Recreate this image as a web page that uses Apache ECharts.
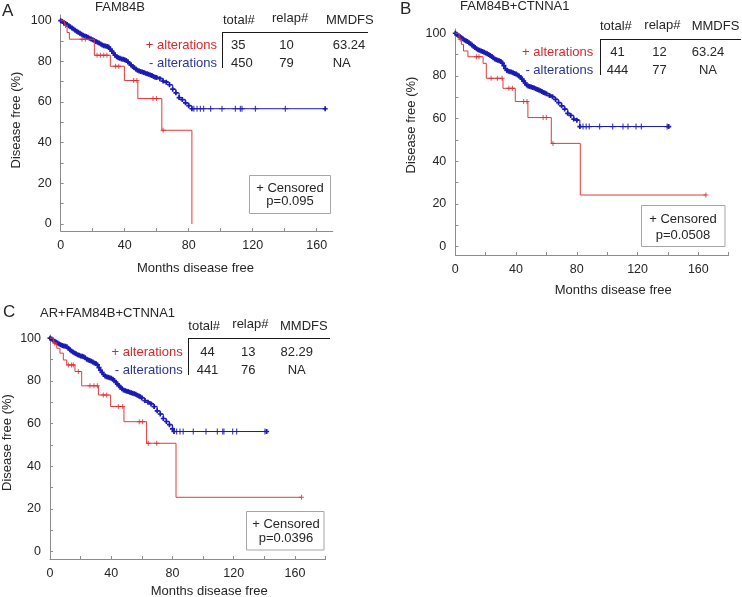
<!DOCTYPE html>
<html><head><meta charset="utf-8">
<script src="https://cdn.jsdelivr.net/npm/echarts@6/dist/echarts.min.js"></script>
<style>html,body{margin:0;padding:0;background:#fff}#c{width:742px;height:597px}</style>
</head><body><div id="c"></div>
<script>
// ---- axis ticks / labels ----
const xTickValues = [0, 20, 40, 60, 80, 100, 120, 140, 160, 180];
const xLabelValues = [0, 40, 80, 120, 160];
const yTickValues = [0, 10, 20, 30, 40, 50, 60, 70, 80, 90, 100];
const yLabelValues = [0, 20, 40, 60, 80, 100];

// ---- texts ----
const panelLetters = ['A', 'B', 'C'];
const panelTitles = ['FAM84B', 'FAM84B+CTNNA1', 'AR+FAM84B+CTNNA1'];
const tableHeader = ['total#', 'relap#', 'MMDFS'];
const rowLabels = ['+ alterations', '- alterations'];
const totals = [['35', '450'], ['41', '444'], ['44', '441']];
const relapses = [['10', '79'], ['12', '77'], ['13', '76']];
const mmdfs = [['63.24', 'NA'], ['63.24', 'NA'], ['82.29', 'NA']];
const pValues = ['p=0.095', 'p=0.0508', 'p=0.0396'];
const xTitle = 'Months disease free';
const yTitle = 'Disease free (%)';
const censoredLabel = '+ Censored';

// ---- panel A data ----
const aRed = [[0,100],[2.3,97.6],[4,94.2],[5.4,90.9],[21,83],[31,77.6],[39.8,70.6],[48.2,61.7],[63.2,46.1],[82,0]];
const aRedCens = [[3,97.6],[13.3,90.9],[15.4,90.9],[22.7,83],[24.8,83],[26.9,83],[28.9,83],[34.3,77.6],[36.3,77.6],[45.6,70.6],[47.6,70.6],[57.7,61.7],[59.8,61.7],[64,46.1]];
const aBlue = [[0,100],[1,99.6],[2,99.1],[3,98.6],[4,98.1],[5,97.5],[6,97],[7,96.4],[8,95.9],[9,95.3],[10,94.8],[11,94.3],[12,93.8],[13,93.3],[14,92.9],[15,92.5],[16,92.2],[17,91.8],[18,91.4],[19,91],[20,90.6],[21,90.2],[22,89.8],[23,89.4],[24,89],[25,88.5],[26,88],[27,87.7],[28,87.5],[29,87.3],[30,87],[31,86],[32,85],[33,84],[34,83],[35,82.3],[36,81.8],[37,81.5],[38,81.2],[39,81],[40,80.8],[41,80.4],[42,79.8],[43,79],[44,78.2],[45,77.5],[46,76.8],[47,76.2],[48,75.6],[49,75.2],[50,75],[51,74.8],[52,74.5],[53,74.2],[54,73.9],[55,73.6],[56,73.3],[57,73],[58,72.6],[59,72.2],[60,72],[62,71.5],[64,70.3],[66,69.7],[68,68.5],[70,66.3],[72,64.5],[74,62.2],[76,61.2],[78,59.6],[80,58.2],[82,56.7],[165.3,56.7]];
const aBlueCens = [[83.2,56.7],[85.2,56.7],[87.3,56.7],[89.3,56.7],[93.7,56.7],[100.8,56.7],[109.2,56.7],[112.3,56.7],[113.3,56.7],[121.7,56.7],[140.4,56.7]];

// ---- panel B data ----
const bRed = [[0,100],[2.5,97.2],[4,94.8],[5.4,91.7],[8.3,89],[18.3,85.9],[20.4,78.9],[31.4,74.2],[39.5,68],[47.8,60.5],[63.2,48.4],[82.3,24.2],[165,24.2]];
const bRedCens = [[3.2,97.2],[13.9,89],[15.6,89],[23.6,78.9],[27.7,78.9],[30.8,78.9],[35.3,74.2],[37.6,74.2],[45,68],[47.2,68],[57.8,60.5],[59.9,60.5],[64.3,48.4],[165,24.2]];
const bBlue = [[0,100],[1,99.5],[2,99],[3,98.4],[4,97.9],[5,97.4],[6,96.9],[7,96.5],[8,96.1],[9,95.6],[10,95.1],[11,94.5],[12,93.9],[13,93.3],[14,92.7],[15,92.3],[16,92],[17,91.7],[18,91.4],[19,91.1],[20,90.8],[21,90.4],[22,90],[23,89.6],[24,89.1],[25,88.5],[26,88],[27,87.6],[28,87.3],[29,87.1],[30,86.8],[31,86],[32,84.8],[33,83.5],[34,82.6],[35,82.2],[36,82],[37,81.8],[38,81.5],[39,81.2],[40,80.9],[41,80.5],[42,80],[43,79.3],[44,78.5],[45,77.6],[46,76.7],[47,75.8],[48,75.3],[49,75],[50,74.8],[51,74.6],[52,74.3],[53,74],[54,73.7],[55,73.4],[56,73.1],[57,72.7],[58,72.3],[59,72],[60,71.7],[62,70.8],[64,70.2],[66,69],[68,67.5],[70,66],[72,64.5],[74,62.5],[76,61.5],[78,59.8],[80,59.3],[82,56.3],[140.5,56.3]];
const bBlueCens = [[84.1,56.3],[86.2,56.3],[88.2,56.3],[95,56.3],[103.6,56.3],[110.4,56.3],[113.7,56.3],[119,56.3],[122.5,56.3],[139.5,56.3]];

// ---- panel C data ----
const cRed = [[0,100],[2.2,97.7],[4.4,95.3],[6.5,93],[8.7,89.8],[10.9,87.5],[16.3,84.4],[20.7,77.7],[31.6,73.4],[39.6,68],[48.3,60.9],[63.1,50.8],[82.3,25.5],[164.3,25.5]];
const cRedCens = [[3,97.7],[12,87.5],[14.1,87.5],[15.2,87.5],[18.5,84.4],[26.1,77.7],[28.7,77.7],[30.9,77.7],[34.8,73.4],[37,73.4],[44.6,68],[47.5,68],[58.3,60.9],[60.5,60.9],[64.2,50.8],[69.7,50.8],[164.3,25.5]];
const cBlue = [[0,100],[1,99.6],[2,99.1],[3,98.6],[4,98.1],[5,97.7],[6,97.3],[7,96.9],[8,96.6],[9,96.4],[10,96.2],[11,96],[12,95.3],[13,94.6],[14,94],[15,93.5],[16,93.1],[17,92.7],[18,92.3],[19,92],[20,91.7],[21,91.5],[22,91.3],[23,90.8],[24,90.2],[25,89.8],[26,89.5],[27,89.2],[28,88.8],[29,88.4],[30,88.1],[31,87.5],[32,86.2],[33,85],[34,84],[35,83],[36,82.3],[37,82],[38,81.7],[39,81.5],[40,81.3],[41,80.8],[42,80.2],[43,79.3],[44,78.5],[45,77.8],[46,77],[47,76.3],[48,75.8],[49,75.5],[50,75.2],[51,75],[52,74.7],[53,74.4],[54,74.2],[55,74],[56,73.7],[57,73.3],[58,72.9],[59,72.6],[60,72],[62,70.8],[64,70],[66,69.2],[68,68],[70,66],[72,64.5],[74,62.4],[76,61],[78,59.5],[80,57.5],[81,56.3],[141.5,56.3]];
const cBlueCens = [[82.7,56.3],[84.9,56.3],[87,56.3],[93.6,56.3],[101.9,56.3],[109.3,56.3],[112.8,56.3],[113.6,56.3],[119.3,56.3],[121.9,56.3],[140.4,56.3]];

// ---- styling / layout ----
const RED = '#e23a3a', RED_TXT = '#d9272c', BLUE = '#1a1ab4', BLUE_TXT = '#2a3596';
const TXT = '#262626', AXIS = '#8c8c8c';
const FONT = '"Liberation Sans", Arial, sans-serif';
const CROSS = 'path://M0,3.3H10V6.7H0Z M3.3,0H6.7V10H3.3Z';
const CROSS_R = 'path://M0,4H10V6H0Z M4,0H6V10H4Z';

const grids = [
  {left: 60.7, top: 15, width: 272, height: 216, ymin: -3.44, ymax: 102.8, xmax: 170},
  {left: 455.3, top: 29, width: 273.4, height: 226, ymin: -3.9, ymax: 102, xmax: 180},
  {left: 50, top: 335, width: 275.6, height: 224, ymin: -3.4, ymax: 101.5, xmax: 180}
];

const layouts = [
  {letter:[2,11], title:[95,7.5], head:[[223,20.5],[272,18.7],[326,20.5]], hline:[222,32.5,368], vline:[222.5,32.5,68],
   rowRight:217, rowY:[45.5,63.7], colX:[231,279.3,332.7], colAlign:'left',
   box:[249.5,175.5,81,38], boxTxt:[290,188.3,201.7], yT:[16,120], xT:[195.5,268.3]},
  {letter:[400,9.5], title:[460,6.5], head:[[600,26.7],[644.3,25],[691.7,26.7]], hline:[600,39.5,741], vline:[600.5,39.5,75],
   rowRight:593.3, rowY:[52.3,70], colX:[617.5,659.5,708], colAlign:'center',
   box:[641.5,205.5,83.5,41], boxTxt:[683,219.3,235], yT:[411.7,125], xT:[613.3,290]},
  {letter:[3,312], title:[40,313.3], head:[[188.3,326.7],[232.3,324.3],[280,326.7]], hline:[188,338.5,330], vline:[188.5,338.5,375],
   rowRight:182.7, rowY:[352.3,370], colX:[207.5,248.3,296.7], colAlign:'center',
   box:[246.5,511.5,77.5,38.5], boxTxt:[286,524.3,538.3], yT:[7.5,442.5], xT:[209.2,591.7]}
];

const panelData = [
  [aRed, aRedCens, aBlue, aBlueCens],
  [bRed, bRedCens, bBlue, bBlueCens],
  [cRed, cRedCens, cBlue, cBlueCens]
];

function txt(text, x, y, opts) {
  opts = opts || {};
  return {type: 'text', x: x, y: y, rotation: opts.rot || 0, z: 100, silent: true,
    style: {text: text, fill: opts.fill || TXT, font: (opts.size || 13) + 'px ' + FONT,
      align: opts.align || 'left', verticalAlign: 'middle'}};
}
function line(x1, y1, x2, y2) {
  return {type: 'line', z: 100, silent: true, shape: {x1: x1, y1: y1, x2: x2, y2: y2},
    style: {stroke: '#1a1a1a', lineWidth: 1}};
}

const grid = [], xAxis = [], yAxis = [], series = [], graphic = [];
grids.forEach((g, i) => {
  grid.push({left: g.left, top: g.top, width: g.width, height: g.height, containLabel: false});
  xAxis.push({type: 'value', gridIndex: i, min: 0, max: g.xmax,
    axisLine: {onZero: false, lineStyle: {color: AXIS, width: 1}},
    axisTick: {show: true, inside: true, length: 3, customValues: xTickValues, lineStyle: {color: AXIS}},
    axisLabel: {customValues: xLabelValues, color: TXT, fontSize: 12.5, fontFamily: FONT, margin: 8},
    splitLine: {show: false}});
  yAxis.push({type: 'value', gridIndex: i, min: g.ymin, max: g.ymax,
    axisLine: {show: true, onZero: false, lineStyle: {color: AXIS, width: 1}},
    axisTick: {show: true, inside: true, length: 3, customValues: yTickValues, lineStyle: {color: AXIS}},
    axisLabel: {customValues: yLabelValues, color: TXT, fontSize: 12.5, fontFamily: FONT, margin: 9},
    splitLine: {show: false}});
  const [red, redC, blue, blueC] = panelData[i];
  series.push({type: 'line', xAxisIndex: i, yAxisIndex: i, data: blue, step: 'end',
    symbol: CROSS, symbolSize: 5, showSymbol: true, itemStyle: {color: BLUE},
    lineStyle: {color: BLUE, width: 1}, z: 2});
  series.push({type: 'scatter', xAxisIndex: i, yAxisIndex: i, data: blueC,
    symbol: CROSS_R, symbolSize: 6, itemStyle: {color: BLUE}, z: 3});
  series.push({type: 'line', xAxisIndex: i, yAxisIndex: i, data: red, step: 'end',
    showSymbol: false, symbol: 'none', lineStyle: {color: RED, width: 1}, z: 4});
  series.push({type: 'scatter', xAxisIndex: i, yAxisIndex: i, data: redC,
    symbol: CROSS_R, symbolSize: 5, itemStyle: {color: '#e0262b'}, z: 5});

  const L = layouts[i];
  graphic.push(txt(panelLetters[i], L.letter[0], L.letter[1], {size: 17}));
  graphic.push(txt(panelTitles[i], L.title[0], L.title[1]));
  tableHeader.forEach((h, k) => graphic.push(txt(h, L.head[k][0], L.head[k][1])));
  graphic.push(line(L.hline[0], L.hline[1], L.hline[2], L.hline[1]));
  graphic.push(line(L.vline[0], L.vline[1], L.vline[0], L.vline[2]));
  graphic.push(txt(rowLabels[0], L.rowRight, L.rowY[0], {align: 'right', fill: RED_TXT}));
  graphic.push(txt(rowLabels[1], L.rowRight, L.rowY[1], {align: 'right', fill: BLUE_TXT}));
  [totals[i], relapses[i], mmdfs[i]].forEach((col, k) => {
    col.forEach((v, r) => graphic.push(txt(v, L.colX[k], L.rowY[r], {align: L.colAlign})));
  });
  graphic.push({type: 'rect', z: 99, silent: true,
    shape: {x: L.box[0], y: L.box[1], width: L.box[2], height: L.box[3]},
    style: {fill: '#fff', stroke: '#a6a6a6', lineWidth: 1}});
  graphic.push(txt(censoredLabel, L.boxTxt[0], L.boxTxt[1], {align: 'center'}));
  graphic.push(txt(pValues[i], L.boxTxt[0], L.boxTxt[2], {align: 'center'}));
  graphic.push(txt(yTitle, L.yT[0], L.yT[1], {align: 'center', rot: Math.PI / 2}));
  graphic.push(txt(xTitle, L.xT[0], L.xT[1], {align: 'center'}));
});

const chart = echarts.init(document.getElementById('c'), null, {renderer: 'canvas'});
chart.setOption({animation: false, backgroundColor: '#fff', grid, xAxis, yAxis, series, graphic});
</script>
</body></html>
